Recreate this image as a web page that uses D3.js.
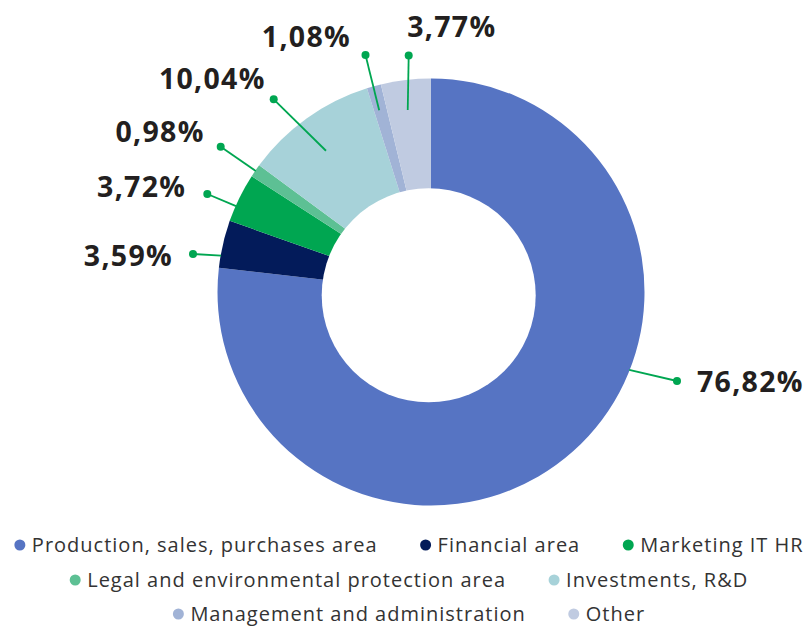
<!DOCTYPE html>
<html>
<head>
<meta charset="utf-8">
<script src="https://cdn.jsdelivr.net/npm/d3@7"></script>
<style>
  html, body { margin: 0; padding: 0; background: #fff; }
  svg { display: block; }
</style>
</head>
<body>
<svg id="chart" width="812" height="626"></svg>
<script>
// ---- data ----
const categories = [
  "Production, sales, purchases area",
  "Financial area",
  "Marketing IT HR",
  "Legal and environmental protection area",
  "Investments, R&D",
  "Management and administration",
  "Other"
];
const values = [76.82, 3.59, 3.72, 0.98, 10.04, 1.08, 3.77];
const valueLabels = ["76,82%", "3,59%", "3,72%", "0,98%", "10,04%", "1,08%", "3,77%"];
const legendRows = [[0, 1, 2], [3, 4], [5, 6]];

// ---- styles / layout ----
const colors = ["#5674c3", "#031b5a", "#00a651", "#5dc094", "#a7d2d9", "#a1b3d6", "#c0cbe1"];
const leaderColor = "#00a651";
const textColor = "#231f20";
const cx = 431, cy = 292, rOuter = 213.5;
const hole = { x: 428.7, y: 295.3, r: 107 };
// leader layout: angle shift from slice mid (deg), start radius, dot position, label offset/anchor
const leaderLayout = [
  { shift: -26.8, r: 213, dot: [677, 381], tx: 20, ty: 10.7, anchor: "start" },
  { shift: -3.2, r: 213, dot: [193, 254], tx: -20, ty: 12, anchor: "end" },
  { shift: -2.4, r: 213, dot: [207.3, 194], tx: -21, ty: 2.7, anchor: "end" },
  { shift: 0, r: 213, dot: [220.7, 146.7], tx: -16, ty: -4.4, anchor: "end" },
  { shift: -1.1, r: 176, dot: [273.7, 99.3], tx: -8, ty: -10, anchor: "end" },
  { shift: -0.4, r: 189, dot: [365.5, 55], tx: -14.5, ty: -8.3, anchor: "end" },
  { shift: -0.5, r: 183.5, dot: [408.7, 55.5], tx: -1.5, ty: -18.8, anchor: "start" }
];

const svg = d3.select("#chart");
svg.append("rect").attr("width", 812).attr("height", 626).attr("fill", "#fff");

const pie = d3.pie().sort(null).value(d => d).startAngle(0).endAngle(2 * Math.PI);
const arcs = pie(values);
const arc = d3.arc().innerRadius(0).outerRadius(rOuter);

const g = svg.append("g").attr("transform", `translate(${cx},${cy})`);
g.selectAll("path.slice").data(arcs).join("path")
  .attr("class", "slice")
  .attr("d", arc)
  .attr("fill", (d, i) => colors[i]);

svg.append("circle").attr("cx", hole.x).attr("cy", hole.y).attr("r", hole.r).attr("fill", "#fff");

// leaders
const lg = svg.append("g");
arcs.forEach((d, i) => {
  const L = leaderLayout[i];
  const a = (d.startAngle + d.endAngle) / 2 + L.shift * Math.PI / 180;
  const sx = cx + L.r * Math.sin(a), sy = cy - L.r * Math.cos(a);
  lg.append("line")
    .attr("x1", sx).attr("y1", sy).attr("x2", L.dot[0]).attr("y2", L.dot[1])
    .attr("stroke", leaderColor).attr("stroke-width", 1.8);
  lg.append("circle").attr("cx", L.dot[0]).attr("cy", L.dot[1]).attr("r", 4).attr("fill", leaderColor);
  lg.append("text")
    .attr("x", L.dot[0] + L.tx).attr("y", L.dot[1] + L.ty)
    .attr("text-anchor", L.anchor)
    .attr("font-family", "'Open Sans', sans-serif")
    .attr("font-weight", 700)
    .attr("font-size", 28.5)
    .attr("letter-spacing", 1.3)
    .attr("fill", textColor)
    .text(valueLabels[i]);
});

// legend
const legendCenter = 409;
const rowY = [545, 580, 614];
const legG = svg.append("g");
legendRows.forEach((row, ri) => {
  const rowG = legG.append("g");
  let x = 0;
  row.forEach((ci, k) => {
    const item = rowG.append("g");
    item.append("circle").attr("cx", x).attr("cy", rowY[ri]).attr("r", 5.5).attr("fill", colors[ci]);
    const t = item.append("text")
      .attr("x", x + 12).attr("y", rowY[ri] + 7)
      .attr("font-family", "'Open Sans', sans-serif")
      .attr("font-size", 20)
      .attr("letter-spacing", 1.0)
      .attr("fill", "#333")
      .text(categories[ci]);
    const w = t.node().getComputedTextLength();
    x = x + 12 + w + (k < row.length - 1 ? 48 : 0);
  });
  const total = x + 5.5;
  rowG.attr("transform", `translate(${legendCenter - total / 2 + 5.5},0)`);
});
</script>
</body>
</html>
